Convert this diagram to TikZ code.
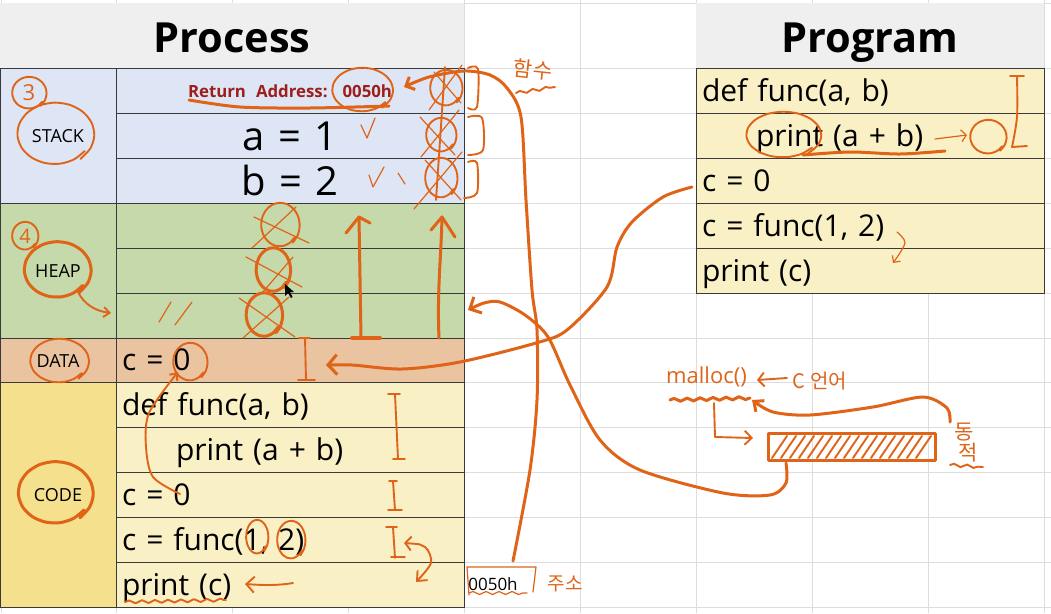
\documentclass[tikz,border=0pt]{standalone}
\usepackage{fontspec}
\setmainfont[WordSpace=1.9]{Open Sans}
\newfontfamily\korean{Noto Sans CJK KR}
\newfontfamily\titlefont{Open Sans}
\usetikzlibrary{arrows.meta,positioning,calc,decorations.pathmorphing}
\definecolor{gridGray}{HTML}{DDDDDD}
\definecolor{headGray}{HTML}{EFEFEF}
\definecolor{stackBlue}{HTML}{DEE6F5}
\definecolor{heapGreen}{HTML}{C5D9AB}
\definecolor{dataTan}{HTML}{EAC3A0}
\definecolor{codeGold}{HTML}{F5E08E}
\definecolor{codeCream}{HTML}{F9F0C6}
\definecolor{retRed}{HTML}{9C1F1C}
\definecolor{penOrange}{HTML}{DF6418}
\definecolor{cellLine}{HTML}{3A3A3A}
\tikzset{
  headBox/.style={fill=headGray, minimum width=#1, minimum height=65pt, anchor=north west, inner sep=0pt, outer sep=0pt, text height=36pt, text depth=3pt, font=\titlefont\fontsize{41.5}{41.5}\selectfont\bfseries},
  segBox/.style={draw=cellLine, line width=0.7pt, fill=#1, minimum width=116pt, anchor=north west, inner sep=0pt, outer sep=0pt},
  cellBox/.style={draw=cellLine, line width=0.7pt, fill=#1, minimum width=348pt, minimum height=45pt, anchor=north west, inner sep=0pt, outer sep=0pt, text width=336pt, text height=26pt, text depth=5pt, font=\fontsize{30}{30}\selectfont},
  bigCell/.style={cellBox=stackBlue, align=center, text height=34pt, text depth=5pt, font=\fontsize{40}{40}\selectfont},
  segName/.style={font=\fontsize{18}{18}\selectfont},
  penThin/.style={draw=penOrange, line width=1.2pt, line cap=round, line join=round},
  penLine/.style={draw=penOrange, line width=1.9pt, line cap=round, line join=round},
  penBold/.style={draw=penOrange, line width=3pt, line cap=round, line join=round},
  penWave/.style={decorate, decoration={snake, amplitude=1.5pt, segment length=13pt}},
  penText/.style={text=penOrange, inner sep=0pt}
}
\newcommand{\penLoop}[5][penLine]{\draw[#1] plot[smooth, domain=35:410, samples=17] ({#2+(#4)*(1+0.00025*(\x-220))*cos(\x)}, {#3+(#5)*(1+0.00025*(\x-220))*sin(\x)});}
\begin{document}
\begin{tikzpicture}[x=1pt,y=-1pt]
  \useasboundingbox (0,0) rectangle (1051,613);
  \fill[white] (0,0) rectangle (1051,613);
  \foreach \gx in {1,116,232,348,464,580,696,812,928,1044}
    \draw[gridGray, line width=0.8pt] (\gx,0) -- (\gx,613);
  \foreach \gy in {3,68,113,158,203,248,293,338,382,427,472,517,562,607}
    \draw[gridGray, line width=0.8pt] (0,\gy) -- (1051,\gy);

  \node[headBox=464pt] (procHead) at (0,3) {Process};
  \node[headBox=348pt] (progHead) at (696,3) {Program};

  \node[segBox=stackBlue, minimum height=135pt] (stackSeg) at (0,68) {};
  \node[segBox=heapGreen, minimum height=135pt] (heapSeg) at (0,203) {};
  \node[segBox=dataTan, minimum height=44pt] (dataSeg) at (0,338) {};
  \node[segBox=codeGold, minimum height=225pt] (codeSeg) at (0,382) {};
  \node[segName] (stackName) at (58,136) {STACK};
  \node[segName] (heapName) at (58,271) {HEAP};
  \node[segName] (dataName) at (58,361) {DATA};
  \node[segName] (codeName) at (58,495) {CODE};

  \node[cellBox=stackBlue, align=center, text height=15pt, text depth=2pt] (retCell) at (116,68) {\textcolor{retRed}{\fontsize{16.8}{18}\selectfont\bfseries Return Address: 0050h}};
  \node[bigCell, below=0pt of retCell] (aCell) {a = 1};
  \node[bigCell, below=0pt of aCell] (bCell) {b = 2};
  \node[cellBox=heapGreen, below=0pt of bCell] (heapA) {};
  \node[cellBox=heapGreen, below=0pt of heapA] (heapB) {};
  \node[cellBox=heapGreen, below=0pt of heapB] (heapC) {};
  \node[cellBox=dataTan, minimum height=44pt, below=0pt of heapC] (dataCell) {c = 0};
  \node[cellBox=codeCream, below=0pt of dataCell] (codeA) {def func(a, b)};
  \node[cellBox=codeCream, below=0pt of codeA] (codeB) {\hspace*{54pt}print (a + b)};
  \node[cellBox=codeCream, below=0pt of codeB] (codeC) {c = 0};
  \node[cellBox=codeCream, below=0pt of codeC] (codeD) {c = func(1, 2)};
  \node[cellBox=codeCream, below=0pt of codeD] (codeE) {print (c)};

  \node[cellBox=codeCream] (progA) at (696,68) {def func(a, b)};
  \node[cellBox=codeCream, below=0pt of progA] (progB) {\hspace*{54pt}print (a + b)};
  \node[cellBox=codeCream, below=0pt of progB] (progC) {c = 0};
  \node[cellBox=codeCream, below=0pt of progC] (progD) {c = func(1, 2)};
  \node[cellBox=codeCream, below=0pt of progD] (progE) {print (c)};

  \penLoop{29}{93}{17}{16}
  \node[penText, font=\fontsize{22}{22}\selectfont] (stepThree) at (29,93) {3};
  \penLoop{55}{134}{38}{31}
  \penLoop{25}{236}{13}{14}
  \node[penText, font=\fontsize{20}{20}\selectfont] (stepFour) at (25,236) {4};
  \penLoop[penBold]{57}{270}{33}{28}
  \penLoop{59}{361}{29}{22}
  \penLoop[penBold]{55}{493}{37}{31}
  \draw[penLine, -{Straight Barb[length=6pt,width=10pt]}] (78,292) .. controls (84,304) and (95,311) .. (111,313);

  \penLoop{362}{90}{30}{22}
  \draw[penBold] plot[smooth] coordinates {(189,100) (240,107) (310,108) (389,106)};
  \penLoop{446}{88}{16}{18}
  \penLoop{441}{135}{15}{17}
  \penLoop{441}{178}{16}{20}
  \draw[penThin] (429,110) -- (462,65) (434,72) -- (461,103);
  \draw[penThin] (420,117) -- (455,155) (459,110) -- (421,157);
  \draw[penThin] (414,209) -- (462,152) (425,160) -- (461,200);
  \draw[penLine] (445,67) -- (436,200);
  \draw[penLine] plot[smooth] coordinates {(468,68) (478,69) (477,107) (468,108)};
  \draw[penLine] plot[smooth] coordinates {(468,117) (482,118) (483,150) (468,155)};
  \draw[penLine] plot[smooth] coordinates {(468,162) (477,163) (477,193) (464,198)};
  \draw[penThin] (361,125) -- (367,138) -- (375,118);
  \draw[penThin] (369,175) -- (373,187) -- (384,167);
  \draw[penThin] (398,173) -- (405,184);

  \penLoop{280}{225}{19}{22}
  \draw[penThin] (254,217) -- (309,243) (296,207) -- (252,248);
  \penLoop[penBold]{273}{270}{17}{22}
  \draw[penThin] (246,257) -- (302,287) (293,257) -- (262,293);
  \penLoop[penBold]{264}{315}{18}{22}
  \draw[penThin] (239,298) -- (295,337) (289,297) -- (243,338);
  \draw[penThin] (159,322) -- (171,302) (175,325) -- (192,302);
  \fill[black] (285,284) -- (285,296) -- (288,293) -- (291,298) -- (292.5,297) -- (290,292) -- (294,292) -- cycle;

  \coordinate (bigFoot) at (513,561);
  \coordinate (retTip) at (404,87);
  \draw[penBold, -{Straight Barb[length=7pt,width=14pt]}] plot[smooth] coordinates {(bigFoot) (530,470) (537,400) (537,330) (532,290) (526,200) (521,117) (507,88) (490,75) (464,71) (429,77) (retTip)};
  \coordinate (barFoot) at (786,463);
  \coordinate (heapTip) at (468,310);
  \draw[penBold, -{Straight Barb[length=9pt,width=18pt]}] plot[smooth] coordinates {(barFoot) (786,483) (770,495) (723,493) (640,470) (600,440) (570,385) (548,337) (525,315) (500,302) (484,303) (heapTip)};
  \coordinate (progTail) at (692,187);
  \coordinate (dataTip) at (326,365);
  \draw[penBold, -{Straight Barb[length=9pt,width=20pt]}] plot[smooth] coordinates {(progTail) (663,197) (632,222) (617,247) (607,287) (567,330) (536,343) (460,362) (402,369) (352,365) (dataTip)};

  \draw[penBold] (359,217) -- (361,338);
  \draw[penBold] (346,233) -- (359,217) -- (370,223);
  \draw[penBold, line width=4pt] (352,338) -- (380,338);
  \draw[penBold] (439,338) .. controls (437,290) and (441,260) .. (442,217);
  \draw[penBold] (431,230) -- (442,217) -- (455,237);

  \draw[penLine] (305,338) -- (306,380) (299,338) -- (310,338) (298,380) -- (315,380);
  \draw[penLine] (395,394) -- (398,459) (388,394) -- (400,394) (393,459) -- (405,459);
  \draw[penLine] (393,481) -- (395,510) (389,481) -- (397,481) (388,510) -- (402,510);
  \draw[penLine] (393,527) -- (395,558) (386,527) -- (397,527) (391,557) -- (405,557);
  \draw[penLine, {Straight Barb[length=6pt,width=14pt]}-{Straight Barb[length=8pt,width=14pt]}] plot[smooth] coordinates {(404,543) (425,547) (431,563) (416,582)};

  \penLoop{190}{362}{17}{19}
  \draw[penLine, -{Straight Barb[length=6pt,width=10pt]}] plot[smooth] coordinates {(180,494) (153,477) (146,447) (149,413) (178,372)};
  \penLoop{257}{537}{11}{17}
  \penLoop{291}{540}{14}{19}
  \draw[penLine, -{Straight Barb[length=8pt,width=16pt]}] (293,583) .. controls (275,586) and (260,585) .. (245,584);
  \draw[penLine, penWave] (125,602) -- (226,600);

  \node[font=\fontsize{17}{17}\selectfont] (addrText) at (493,584) {0050h};
  \draw[penThin] (469,595) -- (467,567) -- (536,567) -- (533,592);
  \draw[penThin, penWave] (469,593) -- (527,593);
  \node[penText, font=\korean\fontsize{19}{19}\selectfont] (addrNote) at (565,584) {주소};
  \node[penText, font=\korean\fontsize{21}{21}\selectfont, rotate=-6] (funcNote) at (533,70) {함수};
  \draw[penLine, penWave] (516,93) -- (555,87);

  \penLoop{783}{135}{37}{23}
  \draw[penBold] plot[smooth] coordinates {(803,155) (850,152) (900,154) (945,151)};
  \draw[penThin, -{Straight Barb[length=5pt,width=12pt]}] (935,139) -- (967,135);
  \penLoop{988}{137}{18}{17}
  \draw[penLine] (1010,76) -- (1024,76);
  \draw[penLine] plot[smooth] coordinates {(1017,76) (1017,117) (1012,147)};
  \draw[penLine] (1012,147) -- (1027,146);
  \draw[penThin, -{Straight Barb[length=5pt,width=10pt]}] plot[smooth] coordinates {(897,232) (905,243) (893,263)};

  \node[penText, font=\titlefont\fontsize{22}{22}\selectfont, anchor=west] (mallocText) at (666,377) {malloc()};
  \draw[penBold, penWave] (670,400) -- (750,398);
  \node[penText, font=\korean\fontsize{20}{20}\selectfont] (langNote) at (820,381) {C 언어};
  \draw[penLine, -{Straight Barb[length=6pt,width=14pt]}] (787,378) -- (757,380);
  \draw[penLine, -{Straight Barb[length=7pt,width=14pt]}] (714,403) -- (715,437) -- (753,438);

  \draw[penBold] (768,433) rectangle (935,460);
  \foreach \hx in {772,781,...,916}
    \draw[penLine] (\hx,458) -- (\hx+15,436);
  \coordinate (dynTail) at (950,422);
  \coordinate (mallocEnd) at (752,400);
  \draw[penBold, -{Straight Barb[length=8pt,width=14pt]}] plot[smooth] coordinates {(dynTail) (947,408) (923,397) (873,407) (810,415) (773,412) (mallocEnd)};
  \node[penText, font=\korean\fontsize{21}{21}\selectfont, align=center] (dynNote) at (964,443) {동\\\hspace*{8pt}적};
  \draw[penLine, penWave] (950,465) -- (983,467);
\end{tikzpicture}
\end{document}
